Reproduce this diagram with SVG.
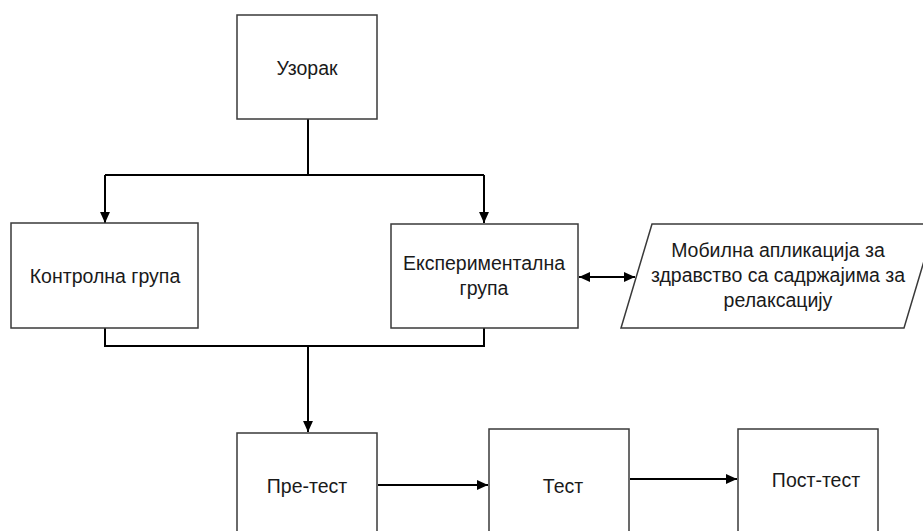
<svg xmlns="http://www.w3.org/2000/svg" width="923" height="531" viewBox="0 0 923 531">
<defs>
<style>
.box{fill:#fff;stroke:#3a3a3a;stroke-width:1.5}
.lbl{font-family:"Liberation Sans","Open Sans",Arial,sans-serif;font-size:19.5px;fill:#1a1a1a;text-anchor:middle}
.con{fill:none;stroke:#000;stroke-width:2}
</style>
<marker id="ah" viewBox="0 0 10 10" refX="10" refY="5" markerWidth="11" markerHeight="11" markerUnits="userSpaceOnUse" orient="auto-start-reverse">
<path d="M0,0.5 L10,5 L0,9.5 z" fill="#000"/>
</marker>
</defs>
<rect width="923" height="531" fill="#fff"/>
<g id="connectors">
<path class="con" d="M308,119 V175"/>
<path class="con" d="M105,175 H484"/>
<path class="con" d="M105,175 V223" marker-end="url(#ah)"/>
<path class="con" d="M484,175 V223" marker-end="url(#ah)"/>
<path class="con" d="M105,328 V346 H484 V328"/>
<path class="con" d="M308,346 V432" marker-end="url(#ah)"/>
<path class="con" d="M579,277 H635" marker-start="url(#ah)" marker-end="url(#ah)"/>
<path class="con" d="M378,485 H488" marker-end="url(#ah)"/>
<path class="con" d="M630,479 H737" marker-end="url(#ah)"/>
</g>
<g id="uzorak">
<rect class="box" x="237" y="15" width="140" height="104"/>
<text class="lbl" x="307" y="75">Узорак</text>
</g>
<g id="kontrolna">
<rect class="box" x="11" y="223" width="187" height="105"/>
<text class="lbl" x="105" y="283">Контролна група</text>
</g>
<g id="eksperimentalna">
<rect class="box" x="391" y="224" width="187" height="104"/>
<text class="lbl" x="484" y="270">Експериментална</text>
<text class="lbl" x="484" y="295">група</text>
</g>
<g id="aplikacija">
<polygon class="box" points="652,224 935,224 904,328 621,328"/>
<text class="lbl" x="778" y="257">Мобилна апликација за</text>
<text class="lbl" x="778" y="282">здравство са садржајима за</text>
<text class="lbl" x="778" y="307">релаксацију</text>
</g>
<g id="pretest">
<rect class="box" x="237" y="433" width="140" height="110"/>
<text class="lbl" x="307" y="493">Пре-тест</text>
</g>
<g id="test">
<rect class="box" x="489" y="429" width="140" height="114"/>
<text class="lbl" x="563" y="493">Тест</text>
</g>
<g id="posttest">
<rect class="box" x="738" y="429" width="140" height="114"/>
<text class="lbl" x="816" y="487">Пост-тест</text>
</g>
</svg>
